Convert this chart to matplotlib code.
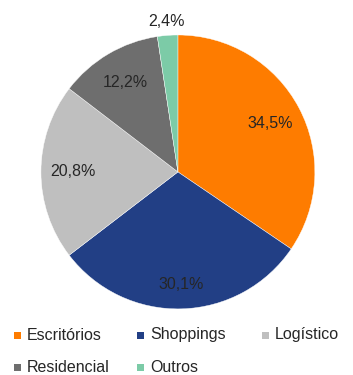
import matplotlib.pyplot as plt
import numpy as np
from matplotlib.patches import Rectangle

plt.rcParams['font.family'] = ['Liberation Sans', 'DejaVu Sans']

# segment shares (%)
categories = ['Escritórios', 'Shoppings', 'Logístico', 'Residencial', 'Outros']
shares = [34.5, 30.1, 20.8, 12.2, 2.4]
labels = ['34,5%', '30,1%', '20,8%', '12,2%', '2,4%']
colors = ['#FE7C00', '#223F85', '#BFBFBF', '#6E6E6E', '#7CCBA7']

W, H = 353, 375
fig = plt.figure(figsize=(W / 100, H / 100), dpi=100)
ax = fig.add_axes([0.116, 0.176, 0.776, 0.731])

wedges, _ = ax.pie(shares, colors=colors, startangle=90, counterclock=False,
                   wedgeprops=dict(edgecolor='white', linewidth=0.3))
ax.set_xlim(-1, 1)
ax.set_ylim(-1, 1)
ax.set_aspect('equal')

# put the percentage labels inside the wedges, the tiny one outside
dist = [0.76, 0.82, 0.77, 0.76, 1.10]
for w, lab, d in zip(wedges, labels, dist):
    ang = np.deg2rad((w.theta1 + w.theta2) / 2)
    ax.text(d * np.cos(ang), d * np.sin(ang), lab, ha='center', va='center',
            fontsize=11.5, color='#262626', clip_on=False)

# legend laid out in a 3-column grid, rows read left to right
col_x = [17, 140, 265]
row_y = [335, 367]
for i, (name, c) in enumerate(zip(categories, colors)):
    x = col_x[i % 3]
    y = row_y[i // 3]
    fig.add_artist(Rectangle(((x - 3.5) / W, 1 - (y + 3.5) / H), 7 / W, 7 / H,
                             facecolor=c, edgecolor='none', transform=fig.transFigure))
    fig.text((x + 10) / W, 1 - y / H, name, ha='left', va='center',
             fontsize=11.5, color='#262626')

fig.savefig('out.png', dpi=100)
